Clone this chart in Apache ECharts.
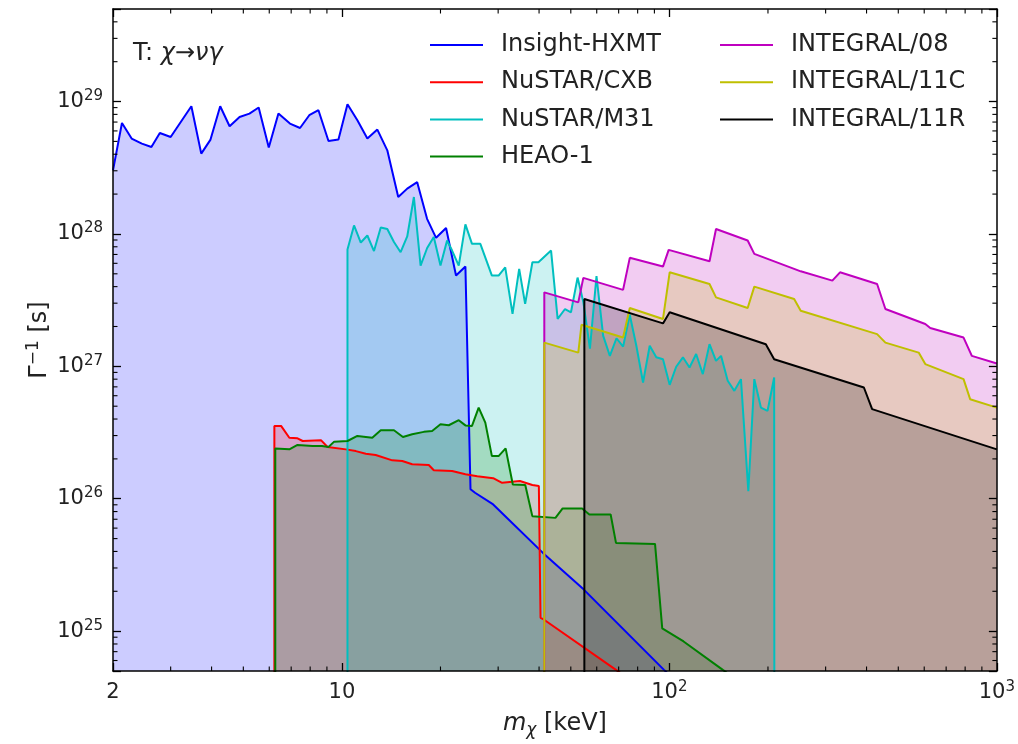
<!DOCTYPE html>
<html><head><meta charset="utf-8">
<script src="https://cdn.jsdelivr.net/npm/echarts@6/dist/echarts.min.js"></script>
<style>html,body{margin:0;padding:0;background:#fff}#c{width:1018px;height:744px}</style>
</head><body><div id="c"></div>
<script>
// ---- data: [m_chi (keV), Gamma^-1 (s)] ----
const seriesNames = ['Insight-HXMT','NuSTAR/CXB','NuSTAR/M31','HEAO-1','INTEGRAL/08','INTEGRAL/11C','INTEGRAL/11R'];
const seriesColors = ['#0000ff','#ff0000','#00bfbf','#008000','#bf00bf','#bfbf00','#000000'];

const hxmt = [[2.0,3.02e28],[2.13,6.89e28],[2.28,5.25e28],[2.45,4.81e28],[2.62,4.54e28],[2.78,5.79e28],[3.00,5.40e28],[3.47,9.22e28],[3.72,4.04e28],[3.97,5.16e28],[4.25,9.22e28],[4.54,6.51e28],[4.87,7.65e28],[5.22,8.11e28],[5.57,9.01e28],[5.98,4.49e28],[6.40,8.11e28],[6.94,6.82e28],[7.45,6.31e28],[7.95,7.88e28],[8.48,8.60e28],[9.10,5.04e28],[9.76,5.16e28],[10.4,9.55e28],[11.15,7.22e28],[11.96,5.25e28],[12.83,6.14e28],[13.76,4.28e28],[14.86,1.90e28],[15.83,2.20e28],[16.98,2.46e28],[18.20,1.30e28],[19.39,9.35e27],[20.80,1.11e28],[22.31,4.85e27],[23.83,5.67e27],[24.7,1.18e26],[25.5,1.11e26],[28.97,9.06e25],[41.1,3.90e25],[54.8,2.06e25],[96.3,5.1e24],[150,1.8e24]];

const nustarCxb = [[6.22,1e22],[6.22,3.55e26],[6.52,3.55e26],[6.91,2.89e26],[7.32,2.86e26],[7.59,2.73e26],[8.63,2.77e26],[9.04,2.46e26],[10.28,2.36e26],[11.03,2.29e26],[11.83,2.19e26],[12.68,2.14e26],[14.25,1.95e26],[15.29,1.93e26],[16.39,1.82e26],[18.42,1.80e26],[19.08,1.64e26],[21.7,1.62e26],[23.83,1.53e26],[25.9,1.48e26],[28.97,1.43e26],[30.85,1.32e26],[34.96,1.36e26],[38.15,1.27e26],[39.94,1.25e26],[40.42,1.26e25],[41.44,1.22e25],[68.7,5.1e24],[150,1.33e24]];

const nustarM31 = [[10.4,1e22],[10.4,7.62e27],[10.89,1.16e28],[11.42,8.61e27],[11.96,9.73e27],[12.53,7.43e27],[13.14,1.12e28],[13.76,1.09e28],[14.42,8.69e27],[15.11,7.28e27],[15.83,9.57e27],[16.59,1.90e28],[17.39,5.77e27],[18.21,7.83e27],[19.08,9.48e27],[20.0,5.77e27],[20.95,8.92e27],[21.70,7.49e27],[22.74,5.77e27],[23.83,1.18e28],[24.96,8.42e27],[26.47,8.42e27],[28.71,4.85e27],[30.09,4.85e27],[31.53,5.60e27],[33.19,2.49e27],[34.78,5.45e27],[36.27,2.96e27],[38.17,6.11e27],[39.82,6.11e27],[43.52,7.49e27],[45.58,2.28e27],[48.01,2.71e27],[50.06,2.56e27],[52.44,4.68e27],[54.58,3.08e27],[57.20,1.36e27],[59.90,4.81e27],[62.79,1.70e27],[65.80,1.20e27],[68.93,1.63e27],[72.24,1.41e27],[75.68,2.45e27],[79.27,1.43e27],[83.09,7.55e26],[87.08,1.43e27],[91.2,1.17e27],[95.6,1.13e27],[100.2,7.25e26],[104.9,9.93e26],[110.0,1.17e27],[115.2,9.80e26],[120.7,1.24e27],[126.5,8.73e26],[132.6,1.47e27],[138.8,1.10e27],[143.8,1.20e27],[150.7,7.78e26],[157.9,6.53e26],[165.4,8.00e26],[174.2,1.14e26],[181.7,8.00e26],[190.3,4.88e26],[199.4,4.61e26],[208.9,8.24e26],[209.5,1e22]];

const heao1 = [[6.26,1e22],[6.26,2.40e26],[6.91,2.36e26],[7.32,2.55e26],[8.14,2.50e26],[8.69,2.50e26],[9.10,2.46e26],[9.47,2.70e26],[10.40,2.73e26],[11.15,2.98e26],[12.38,2.89e26],[13.14,3.29e26],[14.42,3.29e26],[15.36,2.93e26],[16.39,3.07e26],[17.79,3.20e26],[18.86,3.25e26],[20.0,3.65e26],[21.2,3.59e26],[22.74,3.92e26],[23.83,3.58e26],[24.96,3.55e26],[26.16,4.88e26],[27.41,3.76e26],[28.71,2.10e26],[30.09,2.10e26],[31.62,2.40e26],[33.26,1.28e26],[36.30,1.27e26],[38.15,7.39e25],[44.88,7.17e25],[47.21,8.45e25],[54.16,8.45e25],[56.95,7.61e25],[66.17,7.61e25],[68.7,4.64e25],[90.4,4.56e25],[95.1,1.05e25],[110.5,8.36e24],[145.6,5.1e24],[246,2.0e24]];

const integral08 = [[41.5,1e22],[41.5,3.62e27],[52.7,3.04e27],[54.6,4.66e27],[72.2,3.78e27],[75.7,6.60e27],[95.6,5.67e27],[99.5,7.58e27],[132.6,6.22e27],[138.8,1.09e28],[173.4,8.92e27],[181.7,7.07e27],[240.4,5.45e27],[251.8,5.22e27],[314.5,4.44e27],[331.9,5.13e27],[430.8,4.19e27],[456.7,2.71e27],[604.5,2.09e27],[626,1.95e27],[791.2,1.65e27],[838.6,1.20e27],[1000,1.05e27]];

const integral11C = [[41.5,1e22],[41.5,1.51e27],[52.7,1.27e27],[53.9,2.06e27],[72.2,1.65e27],[75.7,2.76e27],[95.6,2.28e27],[100.2,5.13e27],[132.6,4.19e27],[138.8,3.32e27],[173.4,2.76e27],[181.7,4.00e27],[240.4,3.23e27],[251.8,2.63e27],[430.8,1.75e27],[456.7,1.51e27],[577.1,1.27e27],[604.5,1.04e27],[791.2,8.00e26],[828.6,5.65e26],[1000,4.88e26]];

const integral11R = [[55,1e22],[55,3.23e27],[95.6,2.11e27],[100.2,2.56e27],[197,1.47e27],[208.9,1.13e27],[392.6,6.92e26],[416,4.75e26],[1000,2.36e26]];

const allData = [hxmt, nustarCxb, nustarM31, heao1, integral08, integral11C, integral11R];

// axes
const xMin = 2, xMax = 1000;
const yMin = 5e24, yMax = 5e29;
const xMinorTicks = [3,4,5,6,7,8,9,20,30,40,50,60,70,80,90,200,300,400,500,600,700,800,900];
const minorMultipliers = [2,3,4,5,6,7,8,9];
const yDecades = [24,25,26,27,28,29];

const FONT = 'DejaVu Sans';
const TXT = '#222';

const yMinorTicks = [];
yDecades.forEach(function(e){ minorMultipliers.forEach(function(m){ const v = m*Math.pow(10,e); if (v>yMin*1.0001 && v<yMax*0.9999) yMinorTicks.push(v); }); });

function powLabel(v) {
  const e = Math.log10(v);
  const r = Math.round(e);
  if (Math.abs(e - r) > 1e-6) return Math.abs(v - 2) < 1e-6 ? '{b|2}' : '';
  if (r === 1) return '{b|10}';
  return '{b|10}{s|' + r + '}';
}
const tickRich = {
  b: {fontSize: 21, fontFamily: FONT, color: TXT, lineHeight: 26},
  s: {fontSize: 15, fontFamily: FONT, color: TXT, lineHeight: 16, verticalAlign: 'top'}
};

function baseAxis(extra) {
  return Object.assign({
    type: 'log', logBase: 10, z: 10,
    axisLine: {show: true, onZero: false, lineStyle: {color: '#000', width: 1.5}},
    axisTick: {show: true, inside: true, length: 8, lineStyle: {color: '#000', width: 1.3}},
    splitLine: {show: false},
    minorTick: {show: false}
  }, extra);
}

// fills first (below), then lines on top
const series = [];
seriesNames.forEach(function(name, i){
  series.push({
    name: name + ' (fill)', type: 'line', data: allData[i], color: seriesColors[i],
    symbol: 'none', showSymbol: false, clip: true, silent: true,
    lineStyle: {width: 0, opacity: 0},
    areaStyle: {color: seriesColors[i], opacity: 0.2, origin: 'start'},
    z: 2
  });
});
seriesNames.forEach(function(name, i){
  series.push({
    name: name, type: 'line', data: allData[i], color: seriesColors[i],
    symbol: 'none', showSymbol: false, clip: true, silent: true,
    lineStyle: {color: seriesColors[i], width: 2},
    z: 3
  });
});

const tickData = xMinorTicks.map(function(v){ return [v, 1e27, 0]; })
  .concat(yMinorTicks.map(function(v){ return [10, v, 1]; }));

series.push({
  type: 'custom', name: 'minorTicks', silent: true, clip: false, z: 20,
  encode: {x: 0, y: 1},
  data: tickData,
  renderItem: function(params, api) {
    const cs = params.coordSys;
    const p = api.coord([api.value(0), api.value(1)]);
    const L = 4.5;
    const st = {stroke: '#000', lineWidth: 1.1};
    if (api.value(2) === 0) {
      const b = cs.y + cs.height, t = cs.y;
      return {type: 'group', children: [
        {type: 'line', shape: {x1: p[0], y1: b, x2: p[0], y2: b - L}, style: st},
        {type: 'line', shape: {x1: p[0], y1: t, x2: p[0], y2: t + L}, style: st}
      ]};
    }
    const l = cs.x, r = cs.x + cs.width;
    return {type: 'group', children: [
      {type: 'line', shape: {x1: l, y1: p[1], x2: l + L, y2: p[1]}, style: st},
      {type: 'line', shape: {x1: r, y1: p[1], x2: r - L, y2: p[1]}, style: st}
    ]};
  }
});

const legendText = {fontFamily: FONT, fontSize: 24, color: TXT, lineHeight: 28, padding: [0, 0, 0, 13]};

const chart = echarts.init(document.getElementById('c'), null, {renderer: 'canvas'});
chart.setOption({
  animation: false,
  backgroundColor: '#fff',
  grid: {left: 113, right: 18, top: 9, bottom: 73, containLabel: false},
  xAxis: [
    baseAxis({position: 'bottom', min: xMin, max: xMax,
      name: '{i|m}{sub|χ}{n| [keV]}', nameLocation: 'middle', nameGap: 38, nameMoveOverlap: false,
      nameTextStyle: {rich: {
        i: {fontSize: 24, fontStyle: 'italic', fontFamily: FONT, color: TXT, lineHeight: 30},
        sub: {fontSize: 17, fontStyle: 'italic', fontFamily: FONT, color: TXT, lineHeight: 18, verticalAlign: 'bottom'},
        n: {fontSize: 24, fontFamily: FONT, color: TXT, lineHeight: 30}
      }},
      axisLabel: {show: true, margin: 9, formatter: powLabel, rich: tickRich, showMinLabel: true, showMaxLabel: true, hideOverlap: false}
    }),
    baseAxis({position: 'top', min: xMin, max: xMax, axisLabel: {show: false}})
  ],
  yAxis: [
    baseAxis({position: 'left', min: yMin, max: yMax,
      name: '{n|Γ}{s|−1}{n| [s]}', nameLocation: 'middle', nameGap: 58, nameRotate: 90, nameMoveOverlap: false,
      nameTextStyle: {rich: {
        n: {fontSize: 24, fontFamily: FONT, color: TXT, lineHeight: 30},
        s: {fontSize: 17, fontFamily: FONT, color: TXT, lineHeight: 18, verticalAlign: 'top'}
      }},
      axisLabel: {show: true, margin: 10, formatter: powLabel, rich: tickRich, showMinLabel: true, showMaxLabel: true, hideOverlap: false}
    }),
    baseAxis({position: 'right', min: yMin, max: yMax, axisLabel: {show: false}})
  ],
  legend: [
    {data: seriesNames.slice(0, 4), orient: 'vertical', left: 430, top: 31, padding: 0,
     itemWidth: 53, itemHeight: 2, itemGap: 9.2, icon: 'rect', textStyle: legendText, selectedMode: false},
    {data: seriesNames.slice(4), orient: 'vertical', left: 720, top: 31, padding: 0,
     itemWidth: 53, itemHeight: 2, itemGap: 9.2, icon: 'rect', textStyle: legendText, selectedMode: false}
  ],
  graphic: [{
    type: 'text', left: 133, top: 42, z: 30,
    style: {
      text: '{n|T: }{i|χ}{n|→}{i|νγ}',
      rich: {
        n: {fontSize: 24, fontFamily: FONT, fill: TXT, lineHeight: 28},
        i: {fontSize: 24, fontFamily: FONT, fontStyle: 'italic', fill: TXT, lineHeight: 28}
      }
    }
  }],
  series: series
});
</script>
</body></html>
